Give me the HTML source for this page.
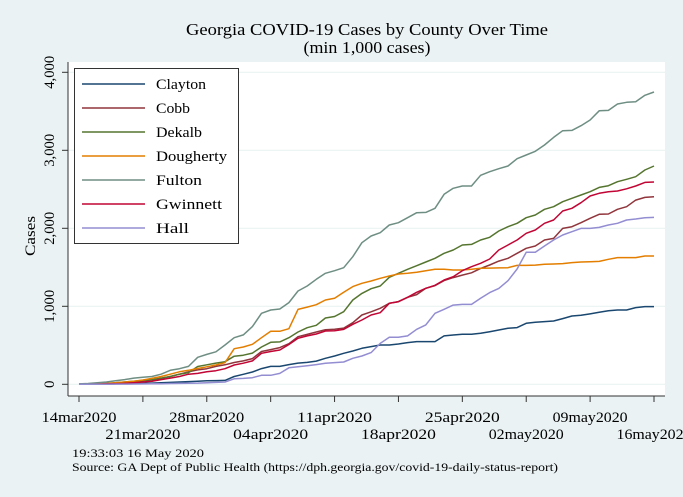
<!DOCTYPE html>
<html><head><meta charset="utf-8"><style>
body{margin:0;background:#eaf2f3;}
svg{display:block;font-family:"Liberation Serif",serif;}
</style></head><body>
<svg id="chart" width="683" height="497">
<rect x="0" y="0" width="683" height="497" fill="#eaf2f3"/>
<text x="367" y="35" text-anchor="middle" font-size="17" textLength="362" lengthAdjust="spacingAndGlyphs" fill="#000">Georgia COVID-19 Cases by County Over Time</text>
<text x="367" y="53" text-anchor="middle" font-size="17" textLength="127" lengthAdjust="spacingAndGlyphs" fill="#000">(min 1,000 cases)</text>
<rect x="68" y="62" width="597" height="334" fill="#fff"/>
<g id="grid"></g>
<g id="series"></g>
<g id="axes"></g>
<g>
<rect x="74.5" y="68.5" width="164" height="175" fill="#fff" stroke="#333" stroke-width="1"/>
<g id="legend"></g>
</g>
<text x="72" y="457" font-size="12" textLength="132" lengthAdjust="spacingAndGlyphs">19:33:03  16 May 2020</text>
<text x="72" y="471" font-size="12" textLength="486" lengthAdjust="spacingAndGlyphs">Source: GA Dept of Public Health (https://dph.georgia.gov/covid-19-daily-status-report)</text>
</svg>
<script>
const seriesNames = ["Clayton","Cobb","Dekalb","Dougherty","Fulton","Gwinnett","Hall"];
const seriesColors = ["#1a476f","#90353b","#55752f","#e37e00","#6e8e84","#c10534","#938dd2"];
const clayton = [0,1,2,3,5,7,10,12,15,20,25,30,35,40,45,48,50,100,128,158,201,230,230,252,272,281,298,333,363,397,427,461,483,504,504,517,534,547,547,547,620,632,641,641,654,675,696,718,727,782,795,804,812,842,876,885,902,923,944,953,953,983,996,996];
const cobb = [3,5,8,10,15,20,30,45,55,75,100,130,160,185,200,230,250,280,300,330,420,445,470,520,610,640,670,700,705,720,790,888,930,975,1038,1060,1115,1150,1231,1266,1330,1368,1400,1430,1486,1530,1580,1615,1679,1743,1773,1850,1871,1999,2021,2072,2128,2179,2183,2243,2277,2362,2396,2405];
const dekalb = [2,5,8,12,20,30,40,50,60,80,100,130,150,228,250,272,290,360,373,400,478,538,543,598,670,726,757,850,869,931,1081,1166,1226,1260,1372,1423,1474,1521,1568,1615,1679,1722,1786,1794,1850,1884,1965,2021,2064,2136,2170,2243,2277,2341,2384,2427,2469,2525,2546,2597,2628,2661,2747,2799];
const dougherty = [0,2,5,10,20,30,40,55,75,100,130,160,180,203,225,247,277,457,478,513,598,679,679,713,960,990,1020,1081,1103,1179,1252,1295,1324,1359,1388,1414,1423,1436,1457,1474,1474,1466,1466,1474,1487,1490,1492,1495,1525,1525,1528,1538,1542,1547,1560,1568,1572,1576,1602,1624,1624,1624,1645,1645];
const fulton = [5,10,20,30,45,60,80,90,100,130,180,200,230,346,383,417,504,598,633,740,910,952,965,1047,1196,1260,1346,1423,1457,1495,1636,1815,1901,1944,2042,2072,2136,2200,2204,2256,2436,2513,2542,2542,2680,2726,2764,2799,2892,2940,2987,3068,3166,3251,3255,3315,3388,3507,3511,3593,3615,3623,3705,3747];
const gwinnett = [0,0,3,5,8,12,20,30,40,60,80,100,130,140,160,175,200,247,270,300,397,420,440,510,590,620,645,683,686,704,769,824,888,918,1038,1059,1115,1179,1231,1269,1337,1380,1456,1508,1551,1606,1722,1786,1850,1936,1978,2064,2106,2222,2256,2328,2414,2449,2469,2478,2507,2542,2589,2593];
const hall = [0,0,0,1,2,3,4,5,6,8,10,12,14,16,20,25,30,70,75,85,115,115,140,212,225,238,252,269,278,286,333,363,406,525,602,602,620,705,761,910,961,1016,1024,1024,1102,1175,1230,1328,1478,1692,1692,1773,1850,1914,1956,1999,1999,2012,2042,2064,2106,2119,2136,2140];
const yTicks = [0,1000,2000,3000,4000];
const yTickLabels = ["0","1,000","2,000","3,000","4,000"];
const xTickDays = [0,7,14,21,28,35,42,49,56,63];
const xTickLabels = ["14mar2020","21mar2020","28mar2020","04apr2020","11apr2020","18apr2020","25apr2020","02may2020","09may2020","16may2020"];

const NS="http://www.w3.org/2000/svg";
const xS = d => 79 + d*(575/63);
const yS = v => 384.3 - v*0.078;
function mk(tag, attrs, parent){const e=document.createElementNS(NS,tag);for(const k in attrs)e.setAttribute(k,attrs[k]);parent.appendChild(e);return e;}
const grid=document.getElementById('grid'), axes=document.getElementById('axes'), ser=document.getElementById('series'), leg=document.getElementById('legend');
yTicks.forEach((v,i)=>{
  const g=mk('line',{x1:68,x2:665,y1:yS(v),y2:yS(v),stroke:'#eaf2f3','stroke-width':1.2},grid);
  
  
  const t=mk('line',{x1:62,x2:68,y1:yS(v),y2:yS(v),stroke:'#333'},axes);
  
  
  const attrs={x:0,y:0,'font-size':15,'text-anchor':'middle',transform:`translate(54,${yS(v)}) rotate(-90)`};
  if(yTickLabels[i].length>1){attrs.textLength=33;attrs.lengthAdjust='spacingAndGlyphs';}
  const l=mk('text',attrs,axes);
  l.textContent=yTickLabels[i];
  
  
});
const yt=mk('text',{x:0,y:0,'font-size':15,'text-anchor':'middle',textLength:40,lengthAdjust:'spacingAndGlyphs',transform:'translate(35,236) rotate(-90)'},axes);
yt.textContent='Cases';


const al=mk('line',{x1:68,x2:68,y1:62,y2:396,stroke:'#333'},axes);


const bl=mk('line',{x1:68,x2:665,y1:396,y2:396,stroke:'#333'},axes);


xTickDays.forEach((d,i)=>{
  const t=mk('line',{x1:xS(d),x2:xS(d),y1:396,y2:402,stroke:'#333'},axes);
  
  
  const l=mk('text',{x:xS(d),y:(i%2===0)?422:439,'font-size':15,'text-anchor':'middle',textLength:75,lengthAdjust:'spacingAndGlyphs'},axes);
  l.textContent=xTickLabels[i];
  
  
});
const legendWidths=[50,34,46,71,46,66,33];
const data=[clayton,cobb,dekalb,dougherty,fulton,gwinnett,hall];
data.forEach((arr,s)=>{
  const p=mk('polyline',{points:arr.map((v,d)=>xS(d).toFixed(1)+','+yS(v).toFixed(1)).join(' '),fill:'none',stroke:seriesColors[s],'stroke-width':1.5,'stroke-linejoin':'round'},ser);
  
  
  const y=84+s*24;
  const ll=mk('line',{x1:82,x2:145,y1:y,y2:y,stroke:seriesColors[s],'stroke-width':1.5},leg);
  
  
  const lt=mk('text',{x:156,y:y+5,'font-size':15,textLength:legendWidths[s],lengthAdjust:'spacingAndGlyphs'},leg);
  lt.textContent=seriesNames[s];
  
  
});
</script>
</body></html>
